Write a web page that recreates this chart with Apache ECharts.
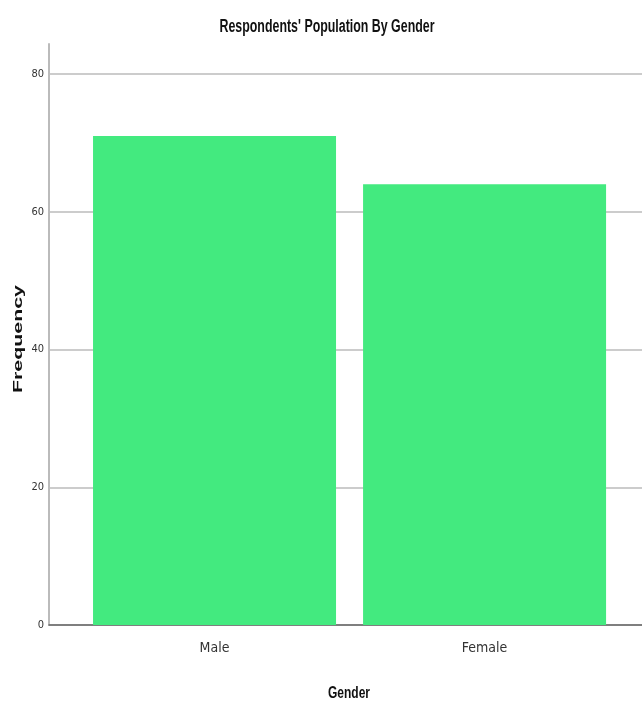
<!DOCTYPE html>
<html>
<head>
<meta charset="utf-8">
<script src="https://cdn.jsdelivr.net/npm/echarts@6/dist/echarts.min.js"></script>
<style>html,body{margin:0;padding:0;background:#fff}#c{width:642px;height:704px}</style>
</head>
<body>
<div id="c"></div>
<script>
var titleText = "Respondents' Population By Gender";
var xName = 'Gender';
var yName = 'Frequency';
var categories = ['Male', 'Female'];
var frequency = [71, 64];
var yTicks = [0, 20, 40, 60, 80];

var narrow = "'DejaVu Sans Condensed', 'Liberation Sans Narrow', sans-serif";
var arial = "'Liberation Sans', Arial, sans-serif";

var ctx = document.createElement('canvas').getContext('2d');
function fitScale(text, font, target) {
  ctx.font = font;
  return target / ctx.measureText(text).width;
}
var titleFont = 'bold 18px ' + arial;
var nameFont = 'bold 17px ' + arial;
var freqFont = 'bold 13px ' + arial;

var chart = echarts.init(document.getElementById('c'));
var seriesData = categories.map(function (c, i) { return [i, frequency[i]]; });
chart.setOption({
  animation: false,
  backgroundColor: '#fff',
  grid: { left: 49, right: 0, top: 44, bottom: 79, outerBoundsMode: 'none', containLabel: false },
  graphic: [
    { type: 'text', x: 327, y: 27, scaleX: fitScale(titleText, titleFont, 215),
      style: { text: titleText, font: titleFont, fill: '#111', align: 'center', verticalAlign: 'middle' } },
    { type: 'text', x: 349, y: 693, scaleX: fitScale(xName, nameFont, 42),
      style: { text: xName, font: nameFont, fill: '#111', align: 'center', verticalAlign: 'middle' } },
    { type: 'text', x: 18, y: 339, rotation: Math.PI / 2, scaleX: fitScale(yName, freqFont, 108),
      style: { text: yName, font: freqFont, fill: '#111', align: 'center', verticalAlign: 'middle' } }
  ],
  xAxis: {
    type: 'value', min: -0.613, max: 1.583,
    axisLine: { show: true, onZero: false, lineStyle: { color: '#666', width: 1.5 } },
    axisTick: { show: false },
    splitLine: { show: false },
    axisLabel: {
      customValues: categories.map(function (c, i) { return i; }),
      formatter: function (v) { return categories[Math.round(v)]; },
      margin: 16, fontFamily: narrow, fontSize: 14, color: '#333'
    }
  },
  yAxis: {
    type: 'value', min: 0, max: 84.36, interval: 20,
    axisLine: { show: true, onZero: false, lineStyle: { color: '#bbb', width: 2 } },
    axisTick: { show: false },
    splitLine: { show: true, showMaxLine: false, lineStyle: { color: '#ccc', width: 2 } },
    axisLabel: {
      showMaxLabel: false, margin: 5,
      formatter: function (v) { return yTicks.indexOf(v) >= 0 ? String(v) : ''; },
      fontFamily: narrow, fontSize: 11, color: '#333'
    }
  },
  series: [{
    type: 'bar', data: seriesData, barWidth: 243,
    itemStyle: { color: '#43ea7f' }
  }]
});
</script>
</body>
</html>
